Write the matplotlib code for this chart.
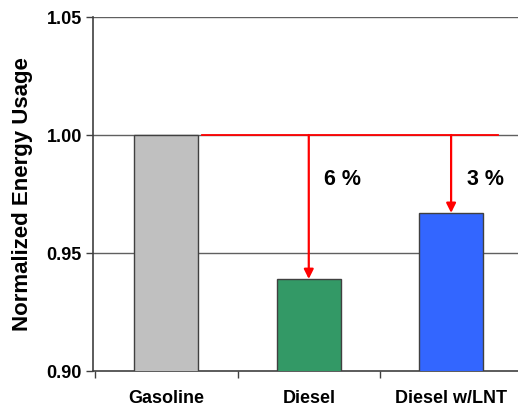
import matplotlib
matplotlib.use("Agg")
import matplotlib.pyplot as plt

categories = ["Gasoline", "Diesel", "Diesel w/LNT"]
values = [1.00, 0.939, 0.967]
bar_colors = ["#C0C0C0", "#339966", "#3366FF"]
labels = ["6 %", "3 %"]
yticks = [0.90, 0.95, 1.00, 1.05]

plt.rcParams["font.family"] = ["Liberation Sans", "DejaVu Sans"]
plt.rcParams["font.weight"] = "bold"

fig = plt.figure(figsize=(5.18, 4.07), dpi=100)
ax = fig.add_axes([93 / 518, 36 / 407, 425 / 518, 354 / 407])

x = list(range(len(categories)))
ax.bar(x, values, width=0.45, color=bar_colors, edgecolor="#404040",
       linewidth=1.0, zorder=3)

ax.set_ylim(0.90, 1.05)
ax.set_xlim(-0.516, 2.47)
ax.set_yticks(yticks)
ax.set_yticklabels([f"{t:.2f}" for t in yticks], fontsize=13, fontweight="bold")
for t in yticks[1:]:
    ax.axhline(t, color="#606060", linewidth=1.0, zorder=1)

# category boundaries as ticks, labels under the bars
ax.set_xticks([-0.5, 0.5, 1.5])
ax.set_xticklabels([])
ax.set_xticks(x, minor=True)
ax.set_xticklabels(categories, minor=True, fontsize=13, fontweight="bold")
ax.tick_params(axis="x", which="minor", length=0, pad=14)
ax.tick_params(axis="x", which="major", length=5, width=1.0, color="#404040")
ax.tick_params(axis="y", length=5, width=1.0, color="#404040", pad=3)

ax.spines["top"].set_visible(False)
ax.spines["right"].set_visible(False)
ax.spines["left"].set_color("#404040")
ax.spines["bottom"].set_color("#404040")
ax.spines["left"].set_linewidth(1.2)
ax.spines["bottom"].set_linewidth(1.2)

ax.set_ylabel("Normalized Energy Usage", fontsize=16, fontweight="bold", labelpad=10)

# red reference line and arrows
ax.plot([0.25, 2.33], [values[0], values[0]], color="red", linewidth=1.3, zorder=4)
for i, lab in zip([1, 2], labels):
    ax.annotate("", xy=(i, values[i]), xytext=(i, values[0]),
                arrowprops=dict(arrowstyle="-|>", color="red", lw=1.6,
                                mutation_scale=14, shrinkA=0, shrinkB=0),
                zorder=5)
    ax.text(i + 0.11, 0.981, lab, fontsize=15.5, fontweight="bold",
            ha="left", va="center")

fig.savefig("out.png", dpi=100)
